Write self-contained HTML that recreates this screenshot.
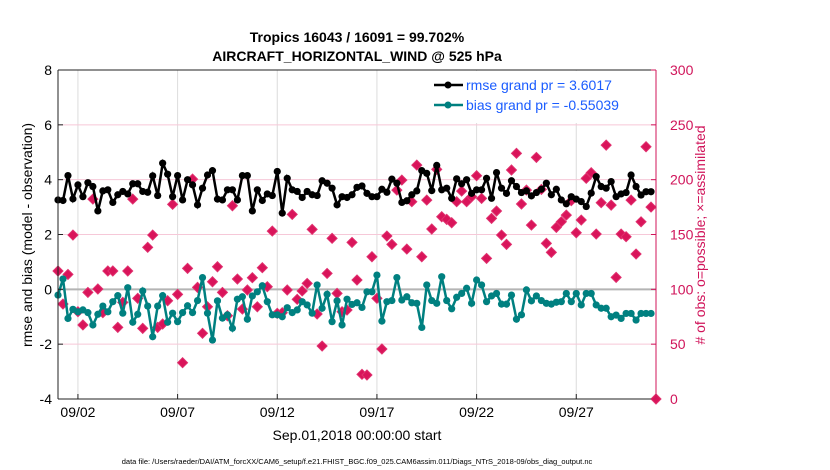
<!DOCTYPE html>
<html><head><meta charset="utf-8">
<style>
html,body{margin:0;padding:0;background:#fff;}
svg{display:block;font-family:"Liberation Sans",Arial,sans-serif;}
</style></head>
<body>
<svg id="chart" width="830" height="470" viewBox="0 0 830 470">
  <text x="357" y="42" text-anchor="middle" font-size="14" font-weight="bold">Tropics 16043 / 16091 = 99.702%</text>
  <text x="357" y="61" text-anchor="middle" font-size="14" font-weight="bold">AIRCRAFT_HORIZONTAL_WIND @ 525 hPa</text>
  <g id="grid"></g>
  <g id="marks"></g>
  <g id="axes"></g>
  <text transform="translate(32,235) rotate(-90)" text-anchor="middle" font-size="14">rmse and bias (model - observation)</text>
  <text transform="translate(705,235) rotate(-90)" text-anchor="middle" font-size="14" fill="#d0145a"># of obs: o=possible; ×=assimilated</text>
  <text x="357" y="440" text-anchor="middle" font-size="14">Sep.01,2018 00:00:00 start</text>
  <text x="357" y="464" text-anchor="middle" font-size="7.5">data file: /Users/raeder/DAI/ATM_forcXX/CAM6_setup/f.e21.FHIST_BGC.f09_025.CAM6assim.011/Diags_NTrS_2018-09/obs_diag_output.nc</text>
  <g id="legend"></g>
</svg>
<script>
const rmse = [3.26,3.24,4.15,3.30,3.81,3.38,3.89,3.75,2.86,3.59,3.63,3.17,3.45,3.57,3.48,3.85,3.85,3.57,3.54,4.14,3.42,4.6,4.2,3.38,4.15,3.26,4.0,3.81,3.08,
3.69,4.17,4.33,3.29,3.26,3.63,3.63,3.26,4.15,4.15,2.86,3.63,3.24,3.48,3.42,4.3,2.78,4.05,3.63,3.57,3.35,3.57,3.45,3.42,3.96,3.87,3.69,3.08,
3.38,3.35,3.45,3.72,3.77,3.50,3.38,3.38,3.65,3.54,4.02,3.87,3.17,3.23,3.45,3.59,4.33,4.23,3.60,4.52,3.63,3.69,3.32,4.03,3.85,4.0,3.5,3.63,
3.63,4.05,3.32,4.26,3.69,3.5,3.96,3.75,3.53,3.59,3.41,3.53,3.65,3.87,3.45,3.65,
3.26,3.12,3.38,3.29,3.20,3.02,3.51,4.11,3.75,3.69,3.93,3.38,3.48,3.53,4.17,3.75,3.44,3.56,3.56];
const bias = [-0.21,0.38,-1.06,-0.73,-0.82,-0.75,-0.85,-1.30,-0.91,-0.61,-0.82,-0.45,-0.23,-0.87,0.06,-1.20,-0.91,-0.06,-0.61,-1.73,-0.61,-0.23,-1.20,-0.87,-1.18,-0.85,-0.60,-0.85,-0.41,
0.43,-0.87,-1.85,-0.42,-1.05,-0.93,-1.42,-0.36,-0.27,-1.09,-0.24,-0.09,0.13,-0.45,-0.93,-0.93,-1.00,-0.67,-0.85,-0.75,-0.45,-0.57,-0.87,0.16,-0.69,-0.18,-1.18,-0.42,
-1.30,-0.36,-0.55,-0.49,-0.66,-0.09,-0.09,0.52,-1.16,-0.45,-0.41,0.43,-0.39,-0.27,-0.49,-0.51,-1.39,0.16,-0.41,-0.51,0.46,-0.41,-0.71,-0.29,-0.15,0.04,-0.51,0.34,
0.16,-0.45,-0.24,-0.15,-0.54,-0.54,-0.21,-1.09,-0.93,-0.02,-0.42,-0.24,-0.41,-0.51,-0.54,-0.47,
-0.45,-0.15,-0.45,-0.15,-0.57,-0.15,-0.15,-0.57,-0.69,-0.69,-1.0,-0.94,-1.06,-0.88,-0.88,-1.12,-0.88,-0.88,-0.88];
const obsCount = [116.7,86.6,113.6,149.5,79.6,67.5,97.2,182.3,100.3,78.7,116.7,116.7,65.3,88.1,116.7,182.3,91.8,64.4,138.3,149.5,65.3,68.4,89.6,177.5,95.4,33.1,119.1,200.5,101.8,
59.9,84.1,106.9,120.6,97.2,75.9,176.2,109.4,82.0,99.4,110.6,84.1,119.7,102.4,153.1,78.1,78.7,99.4,168.3,90.9,98.5,105.4,154.7,77.5,48.3,114.5,146.5,96.3,
79.6,81.1,142.8,108.5,22.5,21.9,129.7,91.8,45.6,148.6,141.0,190.5,199.6,136.7,179.9,213.3,129.7,181.4,155.0,209.4,166.2,163.8,160.7,179.9,189.6,179.9,184.4,203.6,
182.9,128.2,164.7,171.4,149.5,141.0,208.8,224.0,177.8,190.5,158.6,220.3,191.1,141.9,133.7,156.5,
161.6,167.7,180.8,151.6,163.2,201.2,206.3,150.4,179.0,231.5,176.8,110.9,150.4,148.0,181.4,132.2,161.6,230.0,175.0,0];
const xTickDays = [1,6,11,16,21,26];
const xTickLabels = ["09/02","09/07","09/12","09/17","09/22","09/27"];
const yLeftTicks = [-4,-2,0,2,4,6,8];
const yRightTicks = [0,50,100,150,200,250,300];
const stepDays = 0.25;

const L=58,R=656,T=70,B=399;
const xS=d=>L+(R-L)*d/30;
const yS=v=>B-(B-T)*(v+4)/12;
const yR=c=>B-(B-T)*c/300;
const NS="http://www.w3.org/2000/svg";
function mk(tag,attrs,parent){const e=document.createElementNS(NS,tag);for(const k in attrs)e.setAttribute(k,attrs[k]);parent.appendChild(e);return e;}
const grid=document.getElementById('grid'),marks=document.getElementById('marks'),axes=document.getElementById('axes'),legend=document.getElementById('legend');

xTickDays.forEach((d,i)=>{
  const g=mk('line',{x1:xS(d),x2:xS(d),y1:T,y2:B,stroke:'#dcdcdc','stroke-width':1},grid);
  
  
});
yRightTicks.forEach(c=>{
  const g=mk('line',{x1:L,x2:R,y1:yR(c),y2:yR(c),stroke:'#f6c8d8','stroke-width':1},grid);
  
  
});
const zl=mk('line',{x1:L,x2:R,y1:yS(0),y2:yS(0),stroke:'#b4b4b4','stroke-width':2},grid);



obsCount.forEach((c,i)=>{
  const x=xS(i*stepDays),y=yR(c);
  const p=mk('path',{d:`M${x-5},${y}L${x},${y-5}L${x+5},${y}L${x},${y+5}Z`,fill:'#d9145a',stroke:'#e0306e','stroke-width':1},marks);
  
  
});
function series(vals,color,name){
  const pts=vals.map((v,i)=>`${xS(i*stepDays).toFixed(1)},${yS(v).toFixed(1)}`).join(' ');
  const pl=mk('polyline',{points:pts,fill:'none',stroke:color,'stroke-width':2.5},marks);
  
  
  vals.forEach((v,i)=>{
    const c=mk('circle',{cx:xS(i*stepDays),cy:yS(v),r:3.6,fill:color},marks);
    
    
  });
}
series(bias,'#008080','bias');
series(rmse,'#000000','rmse');

const fl=mk('line',{x1:L,x2:L,y1:T,y2:B,stroke:'#222','stroke-width':1},axes);


const fb=mk('line',{x1:L,x2:R,y1:B,y2:B,stroke:'#222','stroke-width':1},axes);


const ft=mk('line',{x1:L,x2:R,y1:T,y2:T,stroke:'#222','stroke-width':1},axes);


const fr=mk('line',{x1:R,x2:R,y1:T,y2:B,stroke:'#d0145a','stroke-width':1},axes);



xTickDays.forEach((d,i)=>{
  const t=mk('line',{x1:xS(d),x2:xS(d),y1:B,y2:B-5,stroke:'#222'},axes);
  
  
  const tx=mk('text',{x:xS(d),y:B+18,'text-anchor':'middle','font-size':14},axes);
  tx.textContent=xTickLabels[i];
  
  
});
yLeftTicks.forEach(v=>{
  const t=mk('line',{x1:L,x2:L+5,y1:yS(v),y2:yS(v),stroke:'#222'},axes);
  
  
  const tx=mk('text',{x:L-6,y:yS(v)+5,'text-anchor':'end','font-size':14},axes);
  tx.textContent=String(v);
  
  
});
yRightTicks.forEach(c=>{
  const t=mk('line',{x1:R-5,x2:R,y1:yR(c),y2:yR(c),stroke:'#d0145a'},axes);
  
  
  const tx=mk('text',{x:R+14,y:yR(c)+5,'font-size':14,fill:'#d0145a'},axes);
  tx.textContent=String(c);
  
  
});

const lb=mk('rect',{x:424,y:71,width:231,height:52,fill:'#fff',stroke:'none'},legend);


[['rmse grand pr = 3.6017','#000','rmse'],['bias grand pr = -0.55039','#008080','bias']].forEach((e,i)=>{
  const y=85+i*20;
  const g=mk('g',{},legend);
  
  
  mk('line',{x1:434,x2:463,y1:y,y2:y,stroke:e[1],'stroke-width':2.5},g);
  mk('circle',{cx:448,cy:y,r:3.5,fill:e[1]},g);
  const t=mk('text',{x:466,y:y+5,'font-size':14,fill:'#1a5cff'},g);
  t.textContent=e[0];
});
</script>
</body></html>
